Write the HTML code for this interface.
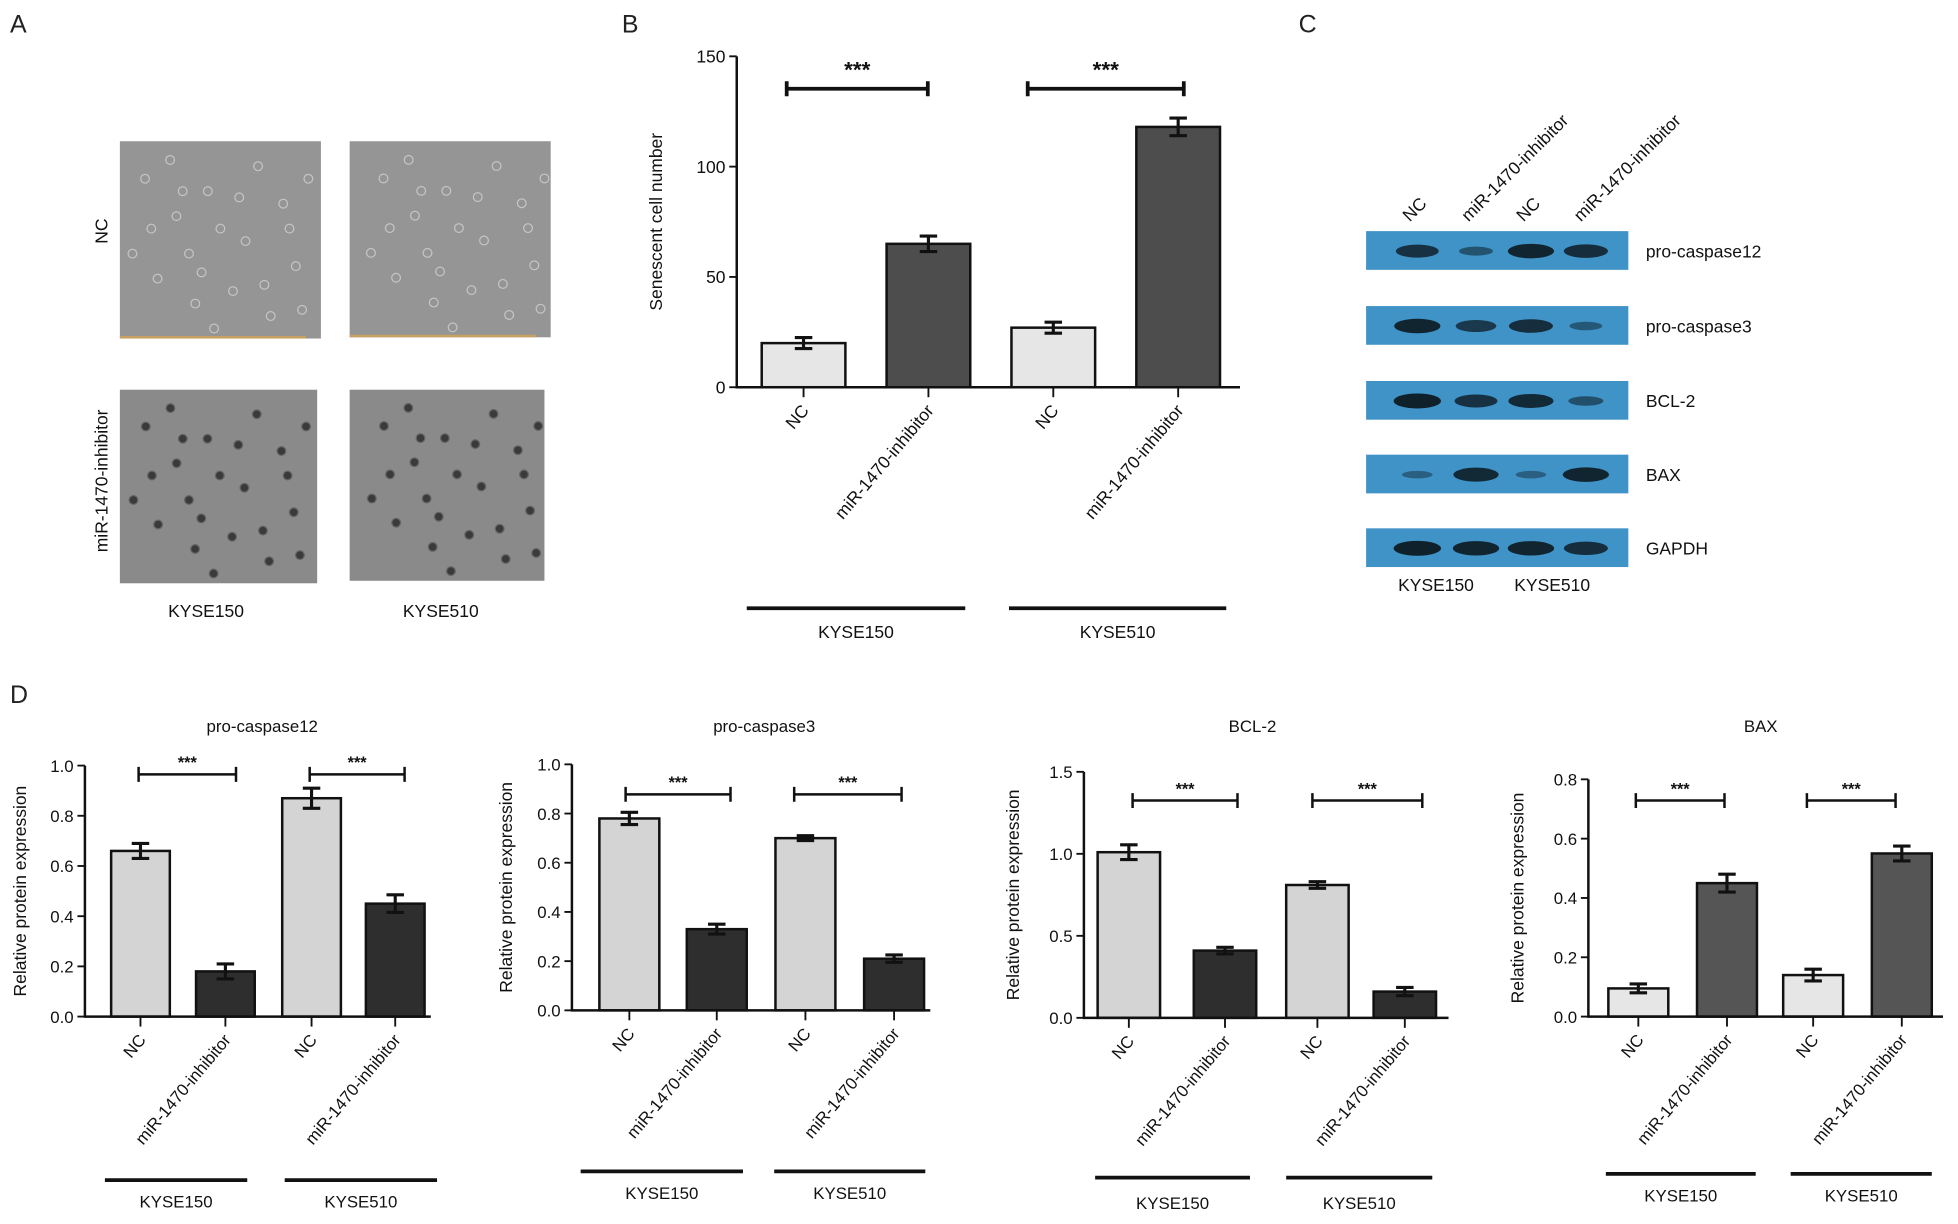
<!DOCTYPE html>
<html><head><meta charset="utf-8"><style>
html,body{margin:0;padding:0;background:#fff}
svg{display:block;font-family:"Liberation Sans",Arial,sans-serif}
</style></head><body>
<svg id="fig" width="1958" height="1224" viewBox="0 0 1568 980" xmlns="http://www.w3.org/2000/svg">
<g id="root"></g>
</svg>
<script>
// ---------- Panel B data ----------
const bCategories = ["NC","miR-1470-inhibitor","NC","miR-1470-inhibitor"];
const bValues = [20, 65, 27, 118];
const bErrors = [2.5, 3.5, 2.5, 4];
const bTicks = [0, 50, 100, 150];
// ---------- Panel D data ----------
const dTitles = ["pro-caspase12","pro-caspase3","BCL-2","BAX"];
const dCaspase12 = [0.66, 0.18, 0.87, 0.45];
const dCaspase12Err = [0.03, 0.03, 0.04, 0.035];
const dCaspase3 = [0.78, 0.33, 0.70, 0.21];
const dCaspase3Err = [0.025, 0.02, 0.01, 0.015];
const dBcl2 = [1.01, 0.41, 0.81, 0.16];
const dBcl2Err = [0.045, 0.02, 0.02, 0.025];
const dBax = [0.095, 0.45, 0.14, 0.55];
const dBaxErr = [0.015, 0.03, 0.02, 0.025];
const dTicks1 = ["0.0","0.2","0.4","0.6","0.8","1.0"];
const dTicks2 = ["0.0","0.2","0.4","0.6","0.8","1.0"];
const dTicks3 = ["0.0","0.5","1.0","1.5"];
const dTicks4 = ["0.0","0.2","0.4","0.6","0.8"];
// ---------- Panel C blot data (band intensity 0..1) ----------
const blotProteins = ["pro-caspase12","pro-caspase3","BCL-2","BAX","GAPDH"];
const blotIntensity = [[0.8,0.4,0.95,0.85],[0.95,0.7,0.85,0.35],[1,0.8,0.9,0.45],[0.25,0.9,0.25,0.95],[1,0.95,0.95,0.85]];

const NS="http://www.w3.org/2000/svg";
const root=document.getElementById('root');
function mk(tag,attrs,parent,text){const e=document.createElementNS(NS,tag);for(const k in attrs)e.setAttribute(k,attrs[k]);if(text!==undefined)e.textContent=text;(parent||root).appendChild(e);return e;}

// panel letters
[["A",8,26],["B",498,26],["C",1040,26],["D",8,563]].forEach(p=>{
 const t=mk('text',{x:p[1],y:p[2],'font-size':20,fill:'#222'},root,p[0]);
 
 
});

// ---------- Panel A ----------
const imgs=[[96,113,161,158],[280,113,161,157],[96,312,158,155],[280,312,156,153]];
const cellPts=[[20,30],[45,60],[70,40],[100,80],[130,50],[30,110],[60,130],[90,120],[120,140],[140,100],[55,90],[110,20],[80,70],[25,70],[135,70],[95,45],[65,105],[115,115],[40,15],[150,30],[10,90],[75,150],[145,135],[50,40]];
imgs.forEach((r,i)=>{
 const g=mk('g',{});
 
 
 mk('rect',{x:r[0],y:r[1],width:r[2],height:r[3],fill:i<2?'#959595':'#8a8a8a'},g);
 cellPts.forEach((c,j)=>{
  mk('circle',{cx:r[0]+Math.min(c[0]*r[2]/160+(i*7%13),r[2]-5),cy:r[1]+c[1]*r[3]/158,r:i<2?3.5:3.5,fill:i<2?'none':'#3a3a3a',stroke:i<2?'#c4c4c4':'#666','stroke-width':1},g);
 });
 if(i<2) mk('rect',{x:r[0],y:r[1]+r[3]-2,width:r[2]-12,height:2,fill:'#c8a060'},g);
});
[["KYSE150",165],["KYSE510",353]].forEach(l=>{const t=mk('text',{x:l[1],y:494,'font-size':14,'text-anchor':'middle',fill:'#111'},root,l[0]);});
[["NC",185],["miR-1470-inhibitor",385]].forEach(l=>{const t=mk('text',{x:0,y:0,'font-size':14,'text-anchor':'middle',fill:'#111',transform:`translate(86,${l[1]}) rotate(-90)`},root,l[0]);});

// ---------- generic bar chart ----------
function barChart(o){
 const g=mk('g',{});
 
 
 const y=v=>o.y0-(v/o.max)*(o.y0-o.yTop);
 o.values.forEach((v,i)=>{
  const b=mk('rect',{x:o.bx[i],y:y(v),width:o.bw,height:o.y0-y(v),fill:o.fills[i],stroke:'#111','stroke-width':2},g);
  
  
  const cx=o.bx[i]+o.bw/2,e=o.errs[i];
  const eb=mk('path',{d:`M${cx},${y(v+e)}V${y(v-e)}M${cx-7},${y(v+e)}H${cx+7}M${cx-7},${y(v-e)}H${cx+7}`,stroke:'#111','stroke-width':2.5,fill:'none'},g);
  
  
  mk('line',{x1:cx,y1:o.y0,x2:cx,y2:o.y0+8,stroke:'#111','stroke-width':1.5},g);
  const t=mk('text',{x:0,y:0,'font-size':o.fs,'text-anchor':'end',fill:'#111',transform:`translate(${cx+5},${o.y0+19}) rotate(${o.rot})`},g,o.cats[i]);
  
  
 });
 const ax=mk('path',{d:`M${o.ax},${o.yTop}V${o.y0}H${o.axEnd}`,stroke:'#111','stroke-width':2,fill:'none'},g);
 
 
 o.ticks.forEach(tk=>{
  const v=parseFloat(tk),yy=y(v);
  mk('line',{x1:o.ax-6,y1:yy,x2:o.ax,y2:yy,stroke:'#111','stroke-width':1.5},g);
  const t=mk('text',{x:o.ax-9,y:yy+5,'font-size':o.fs,'text-anchor':'end',fill:'#111'},g,tk);
  
  
 });
 const yt=mk('text',{x:0,y:0,'font-size':o.yfs||o.fs,'text-anchor':'middle',fill:'#111',transform:`translate(${o.ytX},${(o.y0+o.yTop)/2}) rotate(-90)`},g,o.yTitle);
 
 
 if(o.title){const t=mk('text',{x:o.titleX,y:o.titleY,'font-size':o.fs,'text-anchor':'middle',fill:'#111'},g,o.title);}
 o.brackets.forEach(bk=>{
  const p=mk('path',{d:`M${bk[0]},${o.brY-6}V${o.brY+6}M${bk[0]},${o.brY}H${bk[1]}M${bk[1]},${o.brY-6}V${o.brY+6}`,stroke:'#111','stroke-width':o.brW,fill:'none'},g);
  
  
  const s=mk('text',{x:(bk[0]+bk[1])/2,y:o.brY-o.starOff,'font-size':o.starFs,'text-anchor':'middle',fill:'#111','font-weight':'bold'},g,'***');
  
  
 });
 o.groups.forEach(gr=>{
  const l=mk('line',{x1:gr[0],y1:o.gY,x2:gr[1],y2:o.gY,stroke:'#111','stroke-width':3},g);
  
  
  const t=mk('text',{x:(gr[0]+gr[1])/2,y:o.gY+o.gOff,'font-size':o.fs,'text-anchor':'middle',fill:'#111'},g,gr[2]);
  
  
 });
}

// Panel B
barChart({name:'panel-b-senescence-chart',values:bValues,errs:bErrors,cats:bCategories,ticks:bTicks.map(String),max:150,
 y0:310,yTop:45,ax:590,axEnd:993,bx:[610,710,810,910],bw:67,fills:['#e6e6e6','#4d4d4d','#e6e6e6','#4d4d4d'],fs:14,rot:-50,
 yTitle:'Senescent cell number',ytX:530,brackets:[[630,743],[823,948]],brY:71,brW:3,starOff:9,starFs:18,
 groups:[[598,773,'KYSE150'],[808,982,'KYSE510']],gY:487,gOff:24});

// Panel D charts
const light='#d4d4d4', dark='#2e2e2e';
const dCats=["NC","miR-1470-inhibitor","NC","miR-1470-inhibitor"];
barChart({name:'chart-pro-caspase12',values:dCaspase12,errs:dCaspase12Err,cats:dCats,ticks:dTicks1,max:1.0,y0:814,yTop:613,ax:68,axEnd:345,rot:-50,yfs:14,
 bx:[89,157,226,293],bw:47,fills:[light,dark,light,dark],fs:13.5,yTitle:'Relative protein expression',ytX:21,title:dTitles[0],titleX:210,titleY:586,
 brackets:[[111,189],[248,324]],brY:620,brW:2,starOff:5,starFs:13,groups:[[84,198,'KYSE150'],[228,350,'KYSE510']],gY:945,gOff:22});
barChart({name:'chart-pro-caspase3',values:dCaspase3,errs:dCaspase3Err,cats:dCats,ticks:dTicks2,max:1.0,y0:809,yTop:612,ax:458,axEnd:745,rot:-50,yfs:14,
 bx:[480,550,621,692],bw:48,fills:[light,dark,light,dark],fs:13.5,yTitle:'Relative protein expression',ytX:410,title:dTitles[1],titleX:612,titleY:586,
 brackets:[[501,585],[636,722]],brY:636,brW:2,starOff:5,starFs:13,groups:[[465,595,'KYSE150'],[620,741,'KYSE510']],gY:938,gOff:22});
barChart({name:'chart-bcl2',values:dBcl2,errs:dBcl2Err,cats:dCats,ticks:dTicks3,max:1.5,y0:815,yTop:618,ax:868,axEnd:1160,rot:-50,yfs:14,
 bx:[879,956,1030,1100],bw:50,fills:[light,dark,light,dark],fs:13.5,yTitle:'Relative protein expression',ytX:816,title:dTitles[2],titleX:1003,titleY:586,
 brackets:[[907,991],[1051,1139]],brY:641,brW:2,starOff:5,starFs:13,groups:[[877,1001,'KYSE150'],[1030,1147,'KYSE510']],gY:943,gOff:25});
barChart({name:'chart-bax',values:dBax,errs:dBaxErr,cats:dCats,ticks:dTicks4,max:0.8,y0:814,yTop:624,ax:1272,axEnd:1556,rot:-50,yfs:14,
 bx:[1288,1359,1428,1499],bw:48,fills:['#e6e6e6','#555555','#e6e6e6','#555555'],fs:13.5,yTitle:'Relative protein expression',ytX:1220,title:dTitles[3],titleX:1410,titleY:586,
 brackets:[[1310,1381],[1447,1518]],brY:641,brW:2,starOff:5,starFs:13,groups:[[1286,1406,'KYSE150'],[1434,1547,'KYSE510']],gY:940,gOff:22});

// ---------- Panel C blots ----------
const blotY=[185,245,305,364,423];
const laneX=[1135,1182,1226,1270];
const cg=mk('g',{});


blotProteins.forEach((p,r)=>{
 const y=blotY[r];
 const bg=mk('rect',{x:1094,y:y,width:210,height:31,fill:'#3f93c7'},cg);
 
 
 blotIntensity[r].forEach((v,i)=>{
  mk('ellipse',{cx:laneX[i],cy:y+16,rx:10+v*9,ry:2+v*4,fill:'#0d1a22','fill-opacity':0.25+v*0.7},cg);
 });
 const t=mk('text',{x:1318,y:y+21,'font-size':14,fill:'#111'},cg,p);
 
 
});
const colLab=["NC","miR-1470-inhibitor","NC","miR-1470-inhibitor"];
const colX=[1135,1182,1226,1272];
colLab.forEach((l,i)=>{
 const t=mk('text',{x:0,y:0,'font-size':14,fill:'#111',transform:`translate(${colX[i]-6},${178}) rotate(-45)`},cg,l);
 
 
});
[["KYSE150",1150],["KYSE510",1243]].forEach(l=>{const t=mk('text',{x:l[1],y:473,'font-size':14,'text-anchor':'middle',fill:'#111'},cg,l[0]);});
</script>
</body></html>
